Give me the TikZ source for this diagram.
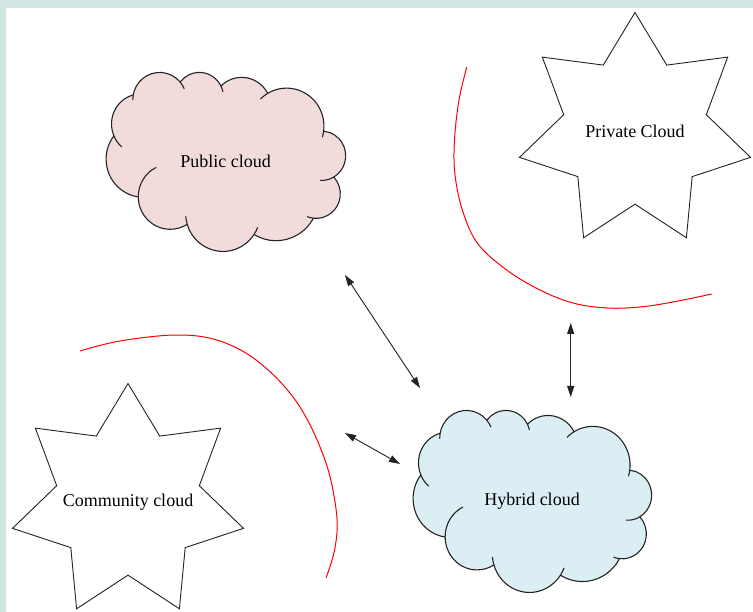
\documentclass[tikz,border=0pt]{standalone}
\usepackage{fontspec}
\setmainfont{Liberation Serif}
\usetikzlibrary{shapes.geometric,arrows.meta,backgrounds}

\definecolor{framecol}{RGB}{209,229,227}
\definecolor{pubfill}{RGB}{242,220,219}
\definecolor{hybfill}{RGB}{219,238,244}
\definecolor{inkgrey}{RGB}{35,35,35}

\tikzset{
  starbox/.style={star, star points=7, star point ratio=1.62, minimum size=237pt,
    inner sep=0pt, draw=inkgrey, line width=0.9pt, fill=white,
    font=\fontsize{18}{21}\selectfont},
  cloudbox/.style={rectangle, inner sep=0pt, font=\fontsize{18}{21}\selectfont},
  cloudline/.style={draw=inkgrey, line width=1.1pt, line join=round},
  link/.style={{Triangle[length=11pt,width=7pt]}-{Triangle[length=11pt,width=7pt]},
    draw=inkgrey, line width=0.9pt},
  sepline/.style={draw=red, line width=1pt},
}

% text set in a zero-width box so that the star keeps its given size
\newcommand\flatlabel[1]{\makebox[0pt]{#1}}

% Cloud outline (puffs and inner creases) on a 432 x 432 grid, mirrored,
% fitted to the box of node #1 of width #2 and height #3, filled with #4.
\newcommand\cloudoutline[4]{%
  \pgfmathsetmacro\cloudxu{-#2/432}%
  \pgfmathsetmacro\cloudyu{-#3/432}%
  \begin{scope}[shift={(#1.north east)}, x={(\cloudxu pt,0pt)}, y={(0pt,\cloudyu pt)}]
    \path[cloudline, fill=#4] (39.00,143.70)
      arc[start angle=-187.745, delta angle=128.115, x radius=67.53, y radius=91.90]
      arc[start angle=-152.03, delta angle=106.57, x radius=53.33, y radius=72.67]
      arc[start angle=-153.48, delta angle=116.15, x radius=43.65, y radius=59.45]
      arc[start angle=-139.71, delta angle=129.50, x radius=48.57, y radius=65.95]
      arc[start angle=-74.77, delta angle=97.98, x radius=53.33, y radius=72.73]
      arc[start angle=-37.52, delta angle=119.38, x radius=67.75, y radius=92.20]
      arc[start angle=0.46, delta angle=121.52, x radius=57.85, y radius=78.67]
      arc[start angle=16.85, delta angle=129.38, x radius=67.52, y radius=92.15]
      arc[start angle=58.99, delta angle=92.06, x radius=77.20, y radius=105.43]
      arc[start angle=83.31, delta angle=139.93, x radius=43.60, y radius=59.18]
      arc[start angle=120.35, delta angle=143.76, x radius=43.45, y radius=59.45]
      -- cycle;
    \path[cloudline]
      (20.63,254.04) arc[start angle=120.35, delta angle=-34.81, x radius=43.45, y radius=59.45]
      (57.48,353.35) arc[start angle=83.31, delta angle=-15.07, x radius=43.60, y radius=59.18]
      (164.81,392.68) arc[start angle=146.23, delta angle=12.24, x radius=67.52, y radius=92.15]
      (285.56,368.13) arc[start angle=16.85, delta angle=-12.11, x radius=67.52, y radius=92.15]
      (374.05,302.03) arc[start angle=0.46, delta angle=-64.46, x radius=57.85, y radius=78.67]
      (418.19,154.62) arc[start angle=23.21, delta angle=26.45, x radius=53.33, y radius=72.73]
      (383.19,55.78) arc[start angle=-10.21, delta angle=11.03, x radius=48.57, y radius=65.95]
      (298.34,24.82) arc[start angle=-139.71, delta angle=-16.57, x radius=48.57, y radius=65.95]
      (224.57,34.32) arc[start angle=-153.48, delta angle=-14.25, x radius=43.65, y radius=59.45]
      (140.06,52.03) arc[start angle=-59.63, delta angle=13.89, x radius=67.53, y radius=91.90]
      (39.00,143.70) arc[start angle=172.255, delta angle=-9.06, x radius=67.53, y radius=91.90];
  \end{scope}%
}

\begin{document}
\begin{tikzpicture}[x=1pt, y=-1pt]
  \useasboundingbox (0,0) rectangle (753,612);

  % page frame
  \begin{scope}[on background layer]
    \fill[framecol] (0,0) rectangle (753,612);
    \fill[white] (6,8) rectangle (753,612);
  \end{scope}

  % deployment models
  \node[cloudbox, minimum width=239pt, minimum height=179pt] (pub) at (225.5,161.5) {Public cloud};
  \node[cloudbox, minimum width=238pt, minimum height=182pt] (hyb) at (532,501) {Hybrid cloud};
  \begin{scope}[on background layer]
    \cloudoutline{pub}{239}{179}{pubfill}
    \cloudoutline{hyb}{238}{182}{hybfill}
  \end{scope}

  \node[starbox] (priv) at (635,131) {\flatlabel{Private Cloud}};
  \node[starbox] (comm) at (128,502) {\flatlabel{Community cloud}};

  % red separators
  \draw[sepline] plot[smooth, tension=0.6] coordinates {
    (466.7,67.3) (459,100) (454.5,140) (455,175) (463,212) (478,244)
    (506.7,270) (540,290) (573,303) (607,308) (640,307) (673,302) (711.7,294)};
  \draw[sepline] plot[smooth, tension=0.6] coordinates {
    (80,351) (120,341) (177,335) (220,341) (260,363) (298,404)
    (325,460) (336.5,513) (335,548) (326,578)};

  % links between models
  \coordinate (a1s) at (345,275);
  \coordinate (a1e) at (420,388);
  \coordinate (a2s) at (570.7,323);
  \coordinate (a2e) at (570.7,397);
  \coordinate (a3s) at (345,433);
  \coordinate (a3e) at (400,464);
  \draw[link] (a1s) -- (a1e);
  \draw[link] (a2s) -- (a2e);
  \draw[link] (a3s) -- (a3e);
\end{tikzpicture}
\end{document}
